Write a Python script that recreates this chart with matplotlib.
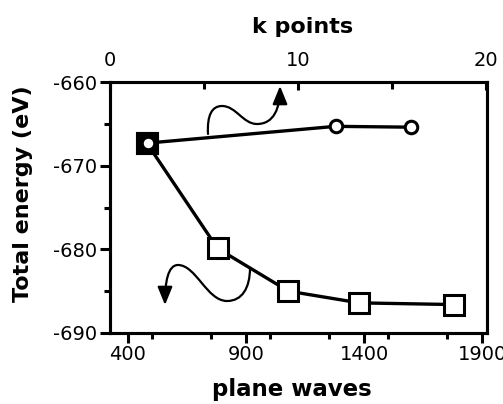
import matplotlib
matplotlib.use("Agg")
import matplotlib.pyplot as plt
from matplotlib.path import Path
from matplotlib.patches import FancyArrowPatch
from matplotlib.ticker import MultipleLocator

plt.rcParams['font.family'] = ['DejaVu Sans']

# data
plane_waves = [480, 780, 1080, 1380, 1780]
energy_pw = [-667.3, -679.9, -685.0, -686.4, -686.6]
k_points = [2, 12, 16]
energy_k = [-667.3, -665.3, -665.4]

y_ticks = [-690, -680, -670, -660]
x_ticks = [400, 900, 1400, 1900]
k_ticks = [0, 10, 20]

W, H = 503, 404
fig = plt.figure(figsize=(W / 100, H / 100), dpi=100)
ax = fig.add_axes([110 / W, 1 - 333 / H, 377 / W, 251 / H])
ax2 = ax.twiny()

lw = 2.4
ax.plot(plane_waves, energy_pw, color='black', lw=lw, marker='s', ms=14,
        mfc='white', mec='black', mew=2.2, zorder=3)
ax2.plot(k_points, energy_k, color='black', lw=lw, marker='o', ms=9,
         mfc='white', mec='black', mew=2.2, zorder=4)
# shared starting point: filled square with a small open dot
ax.plot(plane_waves[:1], energy_pw[:1], linestyle='none', marker='s', ms=14,
        mfc='black', mec='black', mew=2.2, zorder=5)
ax2.plot(k_points[:1], energy_k[:1], linestyle='none', marker='o', ms=6,
         mfc='white', mec='none', zorder=6)

ax.set_xlim(324, 1921)
ax.set_ylim(-690, -660)
ax2.set_xlim(0, 20.05)

ax.set_xticks(x_ticks)
ax.set_xticklabels([str(v) for v in x_ticks])
ax.xaxis.set_minor_locator(MultipleLocator(250))
ax.set_yticks(y_ticks)
ax.set_yticklabels([str(v) for v in y_ticks])
ax.yaxis.set_minor_locator(MultipleLocator(5))
ax2.set_xticks(k_ticks)
ax2.set_xticklabels([str(v) for v in k_ticks])
ax2.xaxis.set_minor_locator(MultipleLocator(5))

for a in (ax, ax2):
    for s in a.spines.values():
        s.set_linewidth(2.2)

ax.tick_params(axis='both', which='major', direction='out', length=7, width=2.2,
               labelsize=14, pad=2, right=False)
ax.tick_params(axis='both', which='minor', direction='out', length=4, width=2.2,
               right=False)
ax2.tick_params(axis='x', which='major', direction='in', length=6, width=2.2,
                labelsize=14, pad=9)
ax2.tick_params(axis='x', which='minor', direction='in', length=5, width=2.2)

ax.set_xlabel('plane waves', fontsize=16.5, fontweight='bold')
ax.set_ylabel('Total energy (eV)', fontsize=16, fontweight='bold')
ax2.set_xlabel('k points', fontsize=16, fontweight='bold')
ax.xaxis.set_label_coords(0.483, -0.179)
ax.yaxis.set_label_coords(-0.204, 0.554)
ax2.xaxis.set_label_coords(0.512, 1.195)


def P(x, y):
    return (x / W, 1 - y / H)


codes = [Path.MOVETO] + [Path.CURVE4] * 9
style = '-|>,head_length=11,head_width=4.5'

up_verts = [P(208, 134), P(207, 115), P(212, 106), P(222, 106),
            P(236, 106), P(243, 124), P(257, 124),
            P(274, 124), P(280, 108), P(280, 86)]
arr1 = FancyArrowPatch(path=Path(up_verts, codes), arrowstyle=style,
                       lw=1.6, color='black', transform=fig.transFigure)
fig.add_artist(arr1)

dn_verts = [P(250, 268), P(250, 288), P(242, 301), P(227, 301),
            P(207, 301), P(196, 265), P(178, 265),
            P(168, 265), P(165, 282), P(165, 305)]
arr2 = FancyArrowPatch(path=Path(dn_verts, codes), arrowstyle=style,
                       lw=1.6, color='black', transform=fig.transFigure)
fig.add_artist(arr2)

fig.savefig('out.png', dpi=100)
